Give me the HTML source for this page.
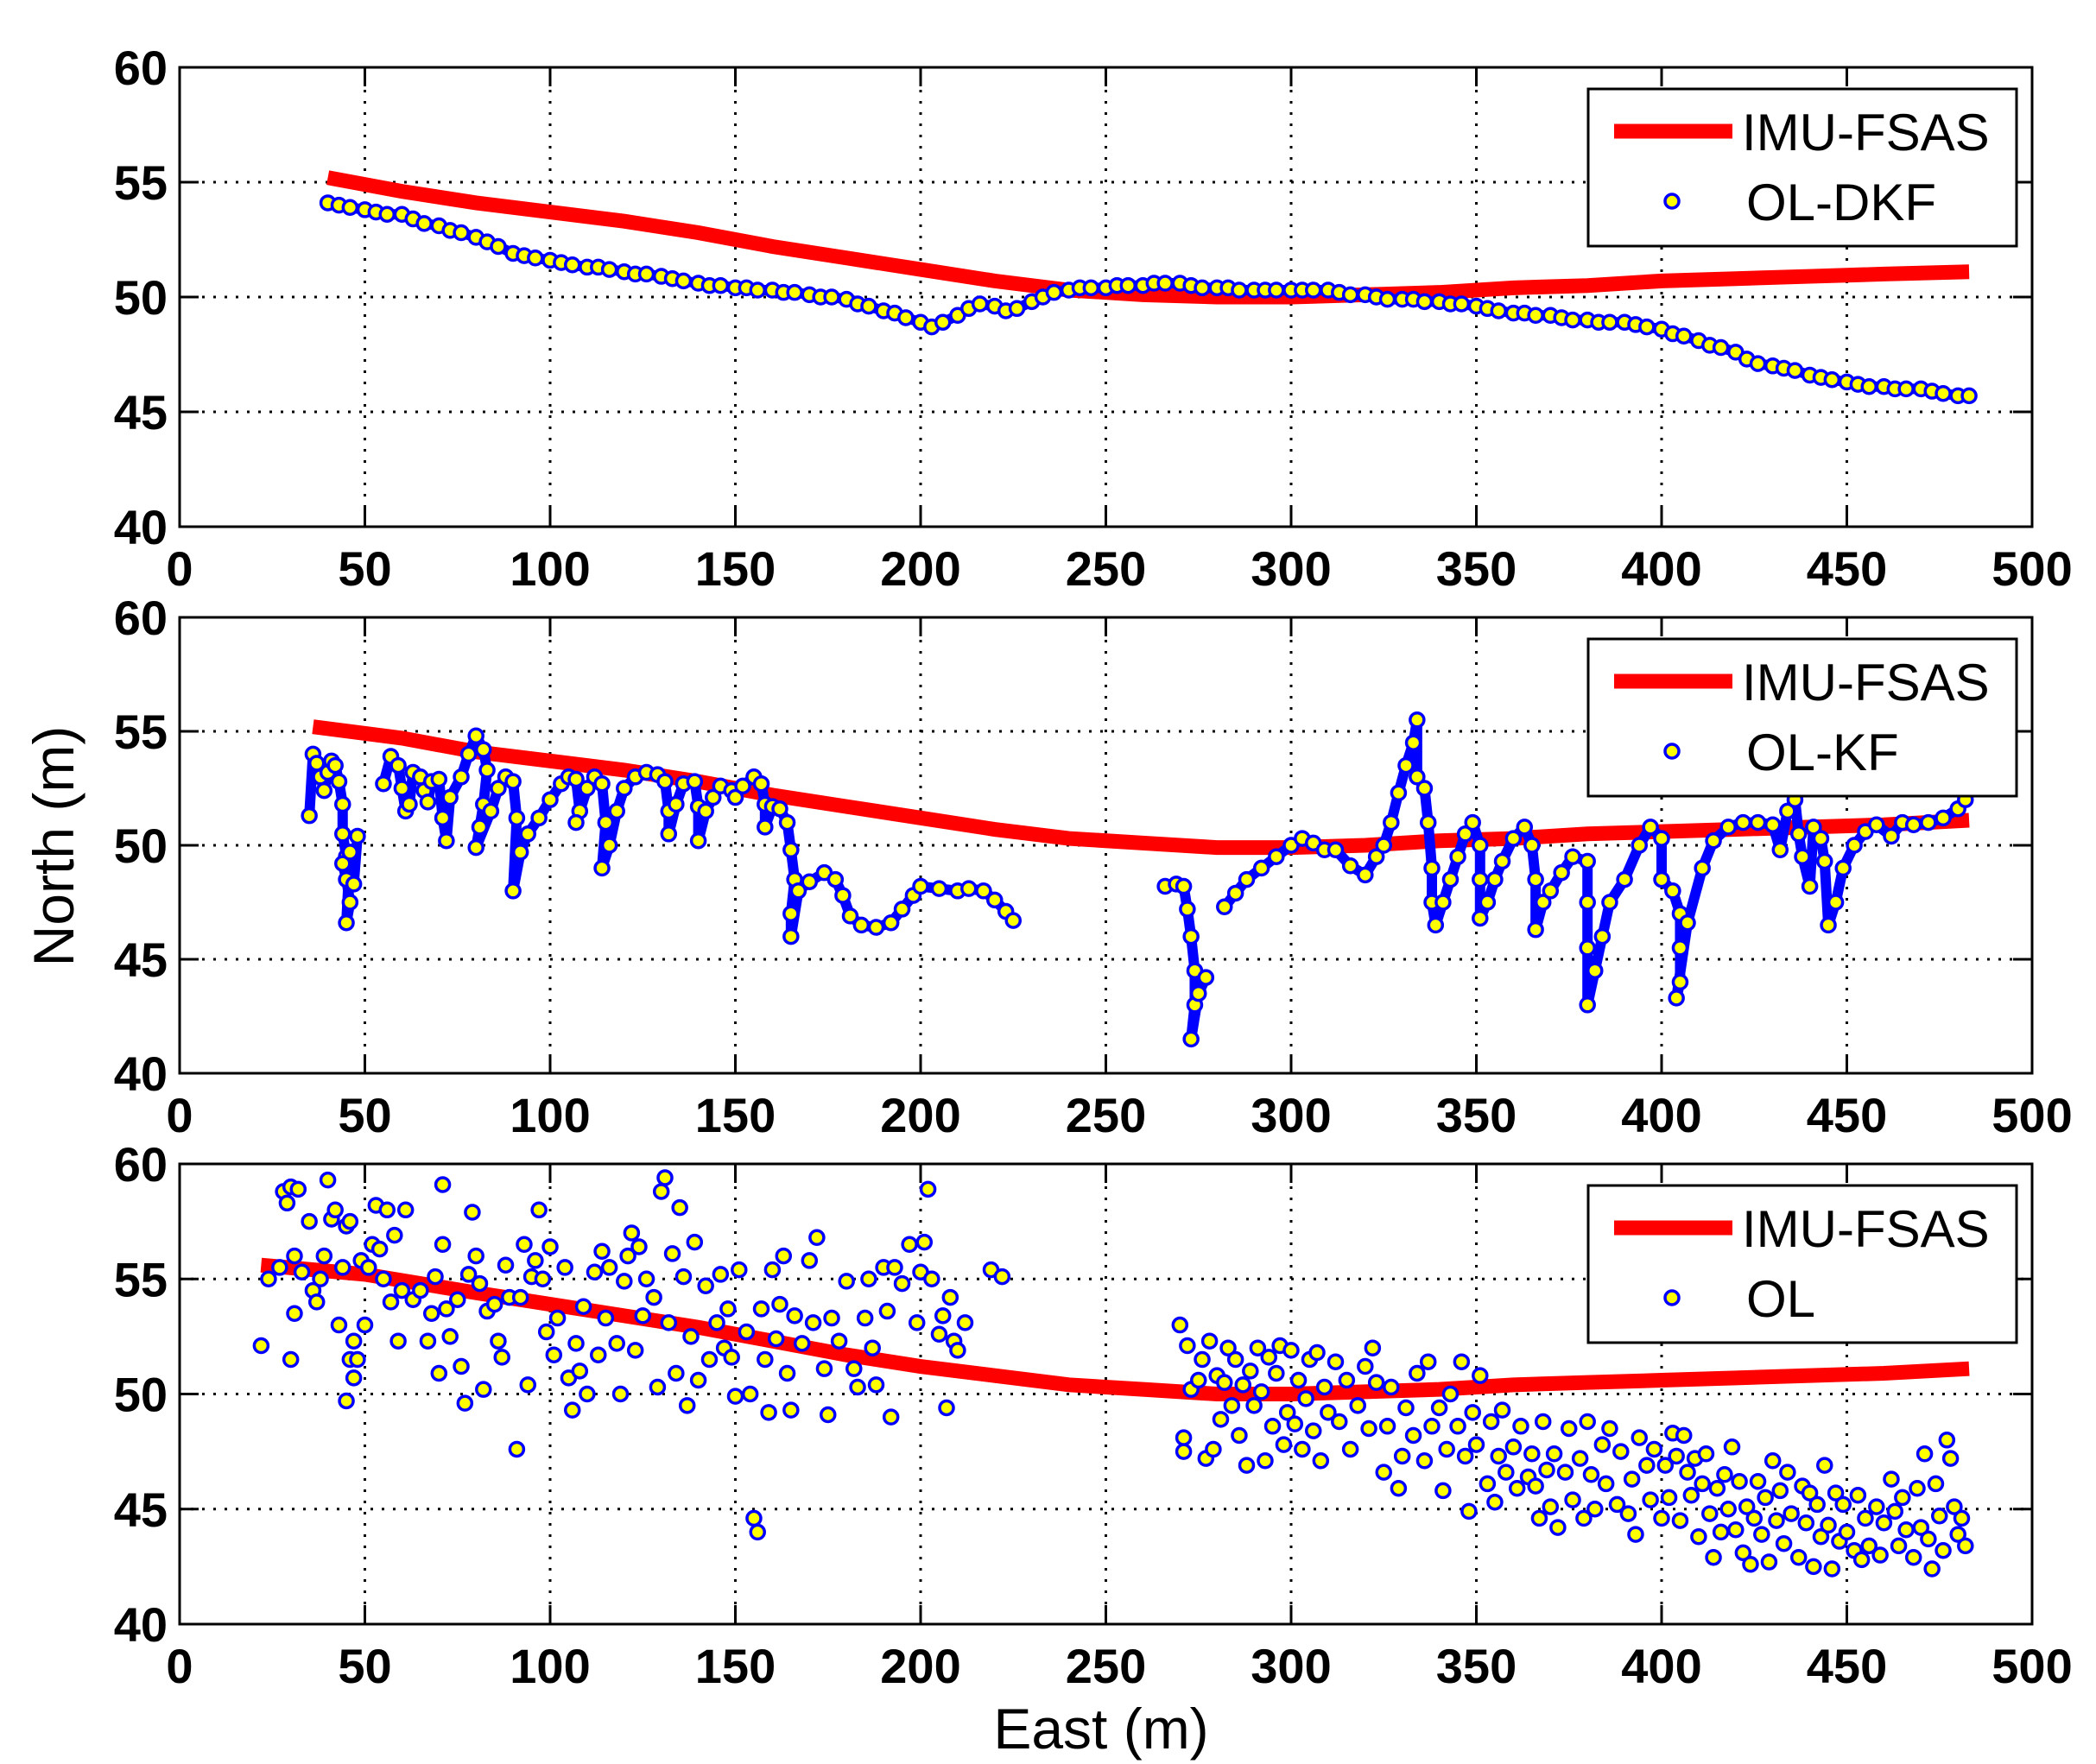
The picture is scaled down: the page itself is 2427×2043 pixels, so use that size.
<!DOCTYPE html>
<html><head><meta charset="utf-8"><style>
html,body{margin:0;padding:0;background:#fff}
svg{display:block}
text{font-family:"Liberation Sans",Arial,sans-serif;fill:#000}
</style></head><body>
<svg id="chart" width="2427" height="2043" viewBox="0 0 2427 2043" xmlns="http://www.w3.org/2000/svg">
<text x="1275" y="2025" text-anchor="middle" font-size="66">East (m)</text>
<text transform="translate(85,980) rotate(-90)" text-anchor="middle" font-size="66">North (m)</text>
</svg>
<script>
// ---- data ----
const xTicks = [0,50,100,150,200,250,300,350,400,450,500];
const yTicks = [40,45,50,55,60];
const legendNames = ["OL-DKF","OL-KF","OL"];
const imuX1 = [40,60,80,100,120,140,160,180,200,220,240,260,280,300,320,340,360,380,400,420,440,460,483];
const imuY1 = [55.2,54.6,54.1,53.7,53.3,52.8,52.2,51.7,51.2,50.7,50.3,50.1,50.0,50.0,50.1,50.2,50.4,50.5,50.7,50.8,50.9,51.0,51.1];
const imuX2 = [36,60,80,100,120,140,160,180,200,220,240,260,280,300,320,340,360,380,400,420,440,460,483];
const imuY2 = [55.2,54.7,54.1,53.7,53.3,52.8,52.2,51.7,51.2,50.7,50.3,50.1,49.9,49.9,50.0,50.2,50.3,50.5,50.6,50.7,50.8,50.9,51.1];
const imuX3 = [22,50,80,100,120,140,160,180,200,220,240,260,280,300,320,340,360,380,400,420,440,460,483];
const imuY3 = [55.6,55.2,54.4,53.9,53.4,52.9,52.3,51.7,51.2,50.8,50.4,50.2,50.0,50.0,50.1,50.2,50.4,50.5,50.6,50.7,50.8,50.9,51.1];
const dkfX = [40,43,46,50,53,56,60,63,66,70,73,76,80,83,86,90,93,96,100,103,106,110,113,116,120,123,126,130,133,136,140,143,146,150,153,156,160,163,166,170,173,176,180,183,186,190,193,196,200,203,206,210,213,216,220,223,226,230,233,236,240,243,246,250,253,256,260,263,266,270,273,276,280,283,286,290,293,296,300,303,306,310,313,316,320,323,326,330,333,336,340,343,346,350,353,356,360,363,366,370,373,376,380,383,386,390,393,396,400,403,406,410,413,416,420,423,426,430,433,436,440,443,446,450,453,456,460,463,466,470,473,476,480,483];
const dkfY = [54.1,54.0,53.9,53.8,53.7,53.6,53.6,53.4,53.2,53.1,52.9,52.8,52.6,52.4,52.2,51.9,51.8,51.7,51.6,51.5,51.4,51.3,51.3,51.2,51.1,51.0,51.0,50.9,50.8,50.7,50.6,50.5,50.5,50.4,50.4,50.3,50.3,50.2,50.2,50.1,50.0,50.0,49.9,49.7,49.6,49.4,49.3,49.1,48.9,48.7,48.9,49.2,49.5,49.7,49.6,49.4,49.5,49.8,50.0,50.2,50.3,50.4,50.4,50.4,50.5,50.5,50.5,50.6,50.6,50.6,50.5,50.4,50.4,50.4,50.3,50.3,50.3,50.3,50.3,50.3,50.3,50.3,50.2,50.1,50.1,50.0,49.9,49.9,49.9,49.8,49.8,49.7,49.7,49.6,49.5,49.4,49.3,49.3,49.2,49.2,49.1,49.0,49.0,48.9,48.9,48.9,48.8,48.7,48.6,48.4,48.3,48.1,47.9,47.8,47.6,47.3,47.1,47.0,46.9,46.8,46.6,46.5,46.4,46.3,46.2,46.1,46.1,46.0,46.0,46.0,45.9,45.8,45.7,45.7];
const kfX = [35,36,37,38,39,40,41,42,43,44,44,45,44,45,46,45,46,47,48,null,55,57,59,60,61,62,63,65,66,67,68,70,71,72,73,76,78,80,82,83,82,81,80,84,86,88,90,91,90,92,94,97,100,103,105,107,108,107,110,112,114,115,114,116,118,120,123,126,129,131,132,132,134,136,139,140,140,142,144,146,149,150,152,155,157,158,158,160,162,164,165,166,165,165,167,170,174,177,179,181,184,188,192,195,198,200,205,210,213,217,220,223,225,null,266,269,271,272,273,274,274,273,275,277,null,282,285,288,292,296,300,303,306,309,312,316,320,323,325,327,329,331,333,334,334,336,337,338,338,339,341,343,345,347,349,351,351,351,353,355,357,360,363,365,366,366,368,370,373,376,380,380,380,380,382,384,386,390,394,397,400,400,403,405,405,405,404,407,411,414,418,422,426,430,432,434,436,437,438,440,441,443,444,445,447,449,452,455,458,462,465,468,472,476,480,482];
const kfY = [51.3,54.0,53.6,53.0,52.4,53.2,53.7,53.5,52.8,51.8,50.5,49.5,49.2,48.5,47.5,46.6,49.7,48.3,50.4,null,52.7,53.9,53.5,52.5,51.5,51.8,53.2,53.0,52.4,51.9,52.8,52.9,51.2,50.2,52.1,53.0,54.0,54.8,54.2,53.3,51.8,50.8,49.9,51.5,52.5,53.0,52.8,51.2,48.0,49.7,50.5,51.2,52.0,52.7,53.0,52.9,51.5,51.0,52.5,53.0,52.7,51.0,49.0,50.0,51.5,52.5,53.0,53.2,53.1,52.8,51.5,50.5,51.8,52.7,52.8,51.7,50.2,51.5,52.1,52.6,52.4,52.1,52.6,53.0,52.7,51.8,50.8,51.7,51.6,51.0,49.8,48.5,47.0,46.0,48.0,48.4,48.8,48.5,47.8,46.9,46.5,46.4,46.6,47.2,47.8,48.2,48.1,48.0,48.1,48.0,47.6,47.1,46.7,null,48.2,48.3,48.2,47.2,46.0,44.5,43.0,41.5,43.5,44.2,null,47.3,47.9,48.5,49.0,49.5,50.0,50.3,50.1,49.8,49.8,49.1,48.7,49.5,50.0,51.0,52.3,53.5,54.5,55.5,53.0,52.5,51.0,49.0,47.5,46.5,47.5,48.5,49.5,50.5,51.0,50.0,48.5,46.8,47.5,48.5,49.3,50.3,50.8,50.0,48.5,46.3,47.5,48.0,48.8,49.5,49.3,47.5,45.5,43.0,44.5,46.0,47.5,48.5,50.0,50.8,50.3,48.5,48.0,47.0,45.5,44.0,43.3,46.6,49.0,50.2,50.8,51.0,51.0,50.9,49.8,51.5,52.0,50.5,49.5,48.2,50.8,50.3,49.3,46.5,47.5,49.0,50.0,50.6,50.9,50.4,51.0,50.9,51.0,51.2,51.6,52.0];
const olX = [22,24,27,28,29,30,30,31,31,32,33,35,36,37,38,39,40,41,42,43,44,45,45,46,46,47,47,48,49,50,51,52,53,54,55,56,57,58,59,60,61,63,65,67,68,69,70,71,71,72,73,75,76,77,78,79,80,81,82,83,85,86,87,88,89,91,92,93,94,95,96,97,98,99,100,101,102,104,105,106,107,108,109,110,112,113,114,115,116,118,119,120,121,122,123,124,125,126,128,129,130,131,132,133,134,135,136,137,138,139,140,142,143,145,146,147,148,149,150,151,153,154,155,156,157,158,159,160,161,162,163,164,165,166,168,170,171,172,174,175,176,178,180,182,183,185,186,187,188,190,191,192,193,195,197,199,200,201,202,203,205,206,207,208,209,210,212,219,222,
270,271,271,272,273,275,276,277,278,279,280,281,282,283,284,285,286,287,288,289,290,291,292,293,294,295,296,297,298,299,300,301,302,303,304,305,306,307,308,309,310,312,313,315,316,318,320,321,322,323,325,326,327,329,330,331,333,334,336,337,338,340,341,342,343,345,346,347,348,349,350,351,353,354,355,356,357,358,360,361,362,364,365,366,367,368,369,370,371,372,374,375,376,378,379,380,381,382,384,385,386,388,389,391,392,393,394,396,397,398,400,401,402,403,404,405,406,407,408,409,410,411,412,413,414,415,416,417,418,419,420,421,422,423,424,425,426,427,428,429,430,431,432,433,434,435,437,438,439,440,441,442,443,444,445,446,447,448,449,450,452,453,454,455,456,458,459,460,462,463,464,465,466,468,469,470,471,472,473,474,475,476,477,478,479,480,481,482];
const olY = [52.1,55,55.5,58.8,58.3,59,51.5,53.5,56,58.9,55.3,57.5,54.5,54,55,56,59.3,57.6,58,53,55.5,49.7,57.3,57.5,51.5,50.7,52.3,51.5,55.8,53,55.5,56.5,58.2,56.3,55,58,54,56.9,52.3,54.5,58,54.1,54.5,52.3,53.5,55.1,50.9,56.5,59.1,53.7,52.5,54.1,51.2,49.6,55.2,57.9,56,54.8,50.2,53.6,53.9,52.3,51.6,55.6,54.2,47.6,54.2,56.5,50.4,55.1,55.8,58,55,52.7,56.4,51.7,53.3,55.5,50.7,49.3,52.2,51,53.8,50,55.3,51.7,56.2,53.3,55.5,52.2,50,54.9,56,57,51.9,56.4,53.4,55,54.2,50.3,58.8,59.4,53.1,56.1,50.9,58.1,55.1,49.5,52.5,56.6,50.6,54.7,51.5,53.1,55.2,52,53.7,51.6,49.9,55.4,52.7,50,44.6,44,53.7,51.5,49.2,55.4,52.4,53.9,56,50.9,49.3,53.4,52.2,55.8,53.1,56.8,51.1,49.1,53.3,52.3,54.9,51.1,50.3,53.3,55,52,50.4,55.5,53.6,49,55.5,54.8,56.5,53.1,55.3,56.6,58.9,55,52.6,53.4,49.4,54.2,52.3,51.9,53.1,55.4,55.1,
53,48.1,47.5,52.1,50.2,50.6,51.5,47.2,52.3,47.6,50.8,48.9,50.5,52,49.5,51.5,48.2,50.4,46.9,51,49.5,52,50.1,47.1,51.6,48.6,50.9,52.1,47.8,49.2,51.9,48.7,50.6,47.6,49.8,51.5,48.4,51.8,47.1,50.3,49.2,51.4,48.8,50.6,47.6,49.5,51.2,48.5,52,50.5,46.6,48.6,50.3,45.9,47.3,49.4,48.2,50.9,47.1,51.4,48.6,49.4,45.8,47.6,50,48.6,51.4,47.3,44.9,49.2,47.8,50.8,46.1,48.8,45.3,47.3,49.3,46.6,47.7,45.9,48.6,46.4,47.4,46,44.6,48.8,46.7,45.1,47.4,44.2,46.6,48.5,45.4,47.2,44.6,48.8,46.5,45,47.8,46.1,48.5,45.2,47.5,44.8,46.3,43.9,48.1,46.9,45.4,47.6,44.6,46.9,45.5,48.3,47.3,44.5,48.2,46.6,45.6,47.2,43.8,46.1,47.4,44.8,42.9,45.9,44,46.5,45,47.7,44.1,46.2,43.1,45.1,42.6,44.6,46.2,43.9,45.5,42.7,47.1,44.5,45.8,43.5,46.6,44.8,42.9,46,44.4,45.7,42.5,45.2,43.8,46.9,44.3,42.4,45.7,43.6,45.2,44,43.2,45.6,42.8,44.6,43.4,45.1,43,44.4,46.3,44.9,43.4,45.5,44.1,42.9,45.9,44.2,47.4,43.7,42.4,46.1,44.7,43.2,48,47.2,45.1,43.9,44.6,43.4];

// ---- layout ----
const NS = "http://www.w3.org/2000/svg";
const svg = document.getElementById('chart');
const L = 208, R = 2353;
const panels = [
  {top:78, bot:610, imuX:imuX1, imuY:imuY1, mx:dkfX, my:dkfY, line:true, leg:0},
  {top:715, bot:1243, imuX:imuX2, imuY:imuY2, mx:kfX, my:kfY, line:true, leg:1},
  {top:1348, bot:1881, imuX:imuX3, imuY:imuY3, mx:olX, my:olY, line:false, leg:2}
];
function mk(tag, attrs, parent){ const e=document.createElementNS(NS,tag); for(const k in attrs) e.setAttribute(k,attrs[k]); (parent||svg).appendChild(e); return e; }

panels.forEach((p, pi) => {
  const sx = v => L + (v-0)/(500-0)*(R-L);
  const sy = v => p.bot - (v-40)/(60-40)*(p.bot-p.top);
  const g = mk('g', {});
  
  
  xTicks.forEach(t => { if(t>0 && t<500){ const l=mk('line',{x1:sx(t),x2:sx(t),y1:p.top,y2:p.bot,stroke:'#000','stroke-width':3,'stroke-dasharray':'3 10'},g);
      }});
  yTicks.forEach(t => { if(t>40 && t<60){ const l=mk('line',{x1:L,x2:R,y1:sy(t),y2:sy(t),stroke:'#000','stroke-width':3,'stroke-dasharray':'3 10'},g);
      }});
  const pts = p.imuX.map((x,i)=>sx(x)+','+sy(p.imuY[i])).join(' ');
  const imu = mk('polyline',{points:pts,fill:'none',stroke:'#ff0000','stroke-width':17},g);
  
  
  if(p.line){
    let seg=[]; const segs=[];
    p.mx.forEach((x,i)=>{ if(x===null){ if(seg.length) segs.push(seg); seg=[]; } else seg.push(sx(x)+','+sy(p.my[i])); });
    if(seg.length) segs.push(seg);
    segs.forEach(s=>{ const pl=mk('polyline',{points:s.join(' '),fill:'none',stroke:'#0000ff','stroke-width':12,'stroke-linejoin':'round'},g);
        });
  }
  p.mx.forEach((x,i)=>{ if(x===null) return;
    const c = mk('circle',{cx:sx(x),cy:sy(p.my[i]),r:8,fill:'#ffff00',stroke:'#0000ff','stroke-width':3.5},g);
    
    
  });
  const box = mk('rect',{x:L,y:p.top,width:R-L,height:p.bot-p.top,fill:'none',stroke:'#000','stroke-width':3},g);
  
  
  xTicks.forEach(t => {
    mk('line',{x1:sx(t),x2:sx(t),y1:p.bot,y2:p.bot-22,stroke:'#000','stroke-width':3},g);
    mk('line',{x1:sx(t),x2:sx(t),y1:p.top,y2:p.top+22,stroke:'#000','stroke-width':3},g);
    const tx = mk('text',{x:sx(t),y:p.bot+68,'text-anchor':'middle','font-size':56,'font-weight':'bold'},g);
    tx.textContent = t;
    
    
  });
  yTicks.forEach(t => {
    mk('line',{x1:L,x2:L+22,y1:sy(t),y2:sy(t),stroke:'#000','stroke-width':3},g);
    mk('line',{x1:R,x2:R-22,y1:sy(t),y2:sy(t),stroke:'#000','stroke-width':3},g);
    const ty = mk('text',{x:L-14,y:sy(t)+20,'text-anchor':'end','font-size':56,'font-weight':'bold'},g);
    ty.textContent = t;
    
    
  });
  const lt = p.top + 25;
  const lg = mk('g',{},g);
  
  
  mk('rect',{x:1839,y:lt,width:496,height:182,fill:'#fff',stroke:'#000','stroke-width':3},lg);
  mk('line',{x1:1869,x2:2006,y1:lt+49,y2:lt+49,stroke:'#ff0000','stroke-width':17},lg);
  const t1 = mk('text',{x:2017,y:lt+71,'font-size':60},lg);
  t1.textContent = 'IMU-FSAS';
  
  
  mk('circle',{cx:1936,cy:lt+130,r:8,fill:'#ffff00',stroke:'#0000ff','stroke-width':3.5},lg);
  const t2 = mk('text',{x:2022,y:lt+152,'font-size':60},lg);
  t2.textContent = legendNames[p.leg];
  
  
});
</script>
</body></html>
